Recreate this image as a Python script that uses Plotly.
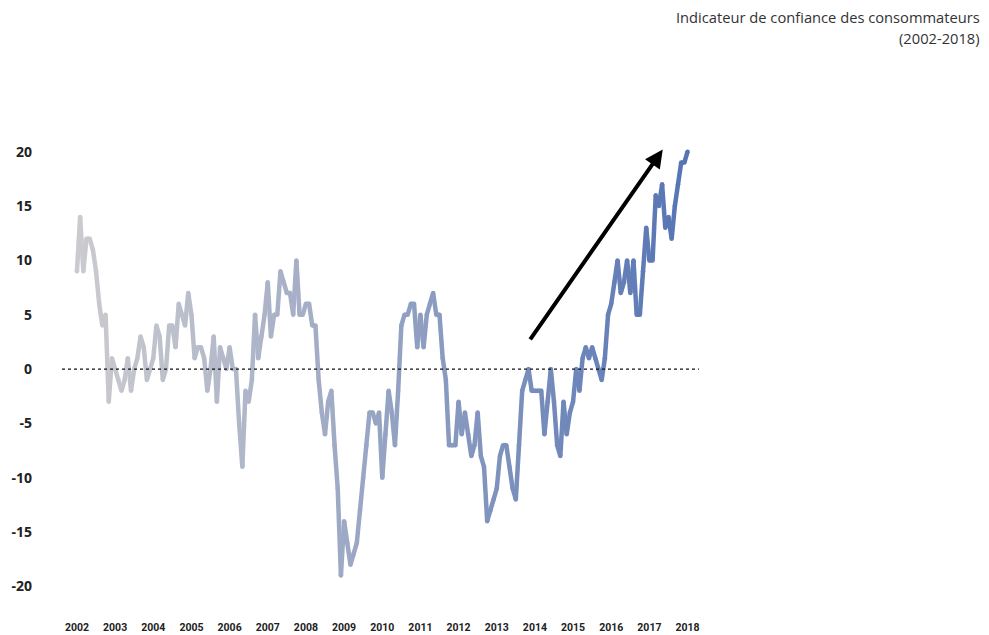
import plotly.graph_objects as go

# monthly consumer confidence, Jan 2002 .. Jan 2018
v2002 = [9, 14, 9, 12, 12, 11, 9, 6, 4, 5, -3, 1]
v2003 = [0, -1, -2, -1, 1, -2, 0, 1, 3, 2, -1, 0]
v2004 = [1, 4, 3, -1, 0, 4, 4, 2, 6, 5, 4, 7]
v2005 = [5, 1, 2, 2, 1, -2, 0, 3, -3, 2, 1, 0]
v2006 = [2, 0, 0, -5, -9, -2, -3, -1, 5, 1, 3, 5]
v2007 = [8, 3, 5, 5, 9, 8, 7, 7, 5, 10, 5, 5]
v2008 = [6, 6, 4, 4, -1, -4, -6, -3, -2, -7, -11, -19]
v2009 = [-14, -16, -18, -17, -16, -13, -10, -7, -4, -4, -5, -4]
v2010 = [-10, -6, -2, -4, -7, -2, 4, 5, 5, 6, 6, 2]
v2011 = [5, 2, 5, 6, 7, 5, 5, 1, -1, -7, -7, -7]
v2012 = [-3, -6, -4, -6, -8, -7, -4, -8, -9, -14, -13, -12]
v2013 = [-11, -8, -7, -7, -9, -11, -12, -7, -2, -1, 0, -2]
v2014 = [-2, -2, -2, -6, -3, 0, -3, -7, -8, -3, -6, -4]
v2015 = [-3, 0, -2, 1, 2, 1, 2, 1, 0, -1, 1, 5]
v2016 = [6, 8, 10, 7, 8, 10, 7, 10, 5, 5, 9, 13]
v2017 = [10, 10, 16, 15, 17, 13, 14, 12, 15, 17, 19, 19]
v2018 = [20]

years = [str(y) for y in range(2002, 2019)]
y_ticks = [20, 15, 10, 5, 0, -5, -10, -15, -20]

values = (v2002 + v2003 + v2004 + v2005 + v2006 + v2007 + v2008 + v2009 + v2010
          + v2011 + v2012 + v2013 + v2014 + v2015 + v2016 + v2017 + v2018)
months = list(range(len(values)))

GREY = (202, 202, 207)
BLUE = (86, 116, 180)


def blend(t):
    t = t ** 1.15
    r, g, b = (round(a + (c - a) * t) for a, c in zip(GREY, BLUE))
    return f"rgb({r},{g},{b})"


fig = go.Figure()
n = len(values)
cols = [blend(i / (n - 1)) for i in range(n)]

# gradient line: one short trace per segment
for i in range(n - 1):
    fig.add_trace(go.Scatter(
        x=months[i:i + 2], y=values[i:i + 2], mode="lines",
        line=dict(color=cols[i], width=4.5), hoverinfo="skip"))
# round the joins
fig.add_trace(go.Scatter(
    x=months, y=values, mode="markers",
    marker=dict(color=cols, size=4.5, line=dict(width=0)), hoverinfo="skip"))

fig.add_shape(type="line", xref="paper", x0=0, x1=1, yref="y", y0=0, y1=0,
              line=dict(color="#111", width=1.2, dash="dot"))

# trend arrow
fig.add_annotation(x=184.2, y=20.2, ax=142.2, ay=2.6, xref="x", yref="y",
                   axref="x", ayref="y", text="", showarrow=True,
                   arrowhead=2, arrowsize=0.9, arrowwidth=4, arrowcolor="#000",
                   standoff=0)

TITLE_FONT = dict(family="Open Sans, Lato, sans-serif", size=14.7, color="#333")
fig.add_annotation(xref="paper", yref="paper", x=1.444, y=(619 - 17) / 489,
                   xanchor="right", yanchor="middle", showarrow=False,
                   text="Indicateur de confiance des consommateurs", font=TITLE_FONT)
fig.add_annotation(xref="paper", yref="paper", x=1.444, y=(619 - 38) / 489,
                   xanchor="right", yanchor="middle", showarrow=False,
                   text="(2002-2018)", font=TITLE_FONT)

fig.update_layout(
    width=989, height=635,
    margin=dict(l=62, r=290, t=130, b=16),
    paper_bgcolor="white", plot_bgcolor="white",
    showlegend=False,
    xaxis=dict(range=[-4.7, 195.6], tickvals=months[::12], ticktext=years,
               showgrid=False, zeroline=False, showline=False, ticks="",
               automargin=False,
               tickfont=dict(family="Liberation Sans Narrow, Roboto, sans-serif",
                             size=10.5, color="#222", weight="bold"),
               fixedrange=True),
    yaxis=dict(range=[-23, 22], tickvals=y_ticks, ticktext=[str(v) for v in y_ticks],
               showgrid=False, zeroline=False, showline=False, ticks="",
               automargin=False, ticklabelstandoff=29,
               tickfont=dict(family="Open Sans, sans-serif", size=14, color="#222",
                             weight="bold"),
               fixedrange=True),
)

fig.write_html("out.html", config={"displayModeBar": False},
               post_script="document.body.style.margin='0';")
